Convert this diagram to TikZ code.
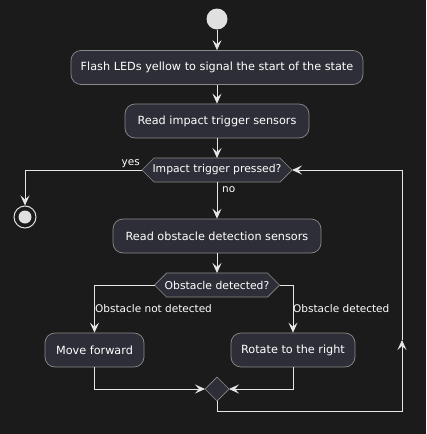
\documentclass[tikz,border=0pt]{standalone}
\usepackage{fontspec}
\setmainfont{DejaVu Sans}
\usetikzlibrary{arrows.meta,calc}
\definecolor{bg}{HTML}{1B1B1B}
\definecolor{boxfill}{HTML}{2E2E38}
\definecolor{boxline}{HTML}{8A8A8A}
\definecolor{ln}{HTML}{E6E6E6}
\definecolor{startc}{HTML}{E0E0E0}
\begin{document}
\begin{tikzpicture}[x=1pt,y=-1pt,
  act/.style={draw=boxline, fill=boxfill, rounded corners=10pt, text=white,
    font=\fontsize{11.25}{14}\selectfont, minimum height=34pt, inner sep=0pt, line width=0.7pt},
  hexa/.style={draw=boxline, fill=boxfill, line width=0.7pt},
  hextext/.style={text=white, font=\fontsize{10.8}{13}\selectfont, inner sep=0pt},
  flow/.style={draw=ln, line width=0.9pt, -{Stealth[length=10pt,width=9pt,inset=4pt]}},
  lbl/.style={text=white, font=\fontsize{10.5}{13}\selectfont, inner sep=1pt}
]
\fill[bg] (0,0) rectangle (426,434);
\useasboundingbox (0,0) rectangle (426,434);

% start and stop
\node[circle, fill=startc, minimum size=21pt, inner sep=0pt] (start) at (217,19) {};
\node[circle, draw=startc, line width=1pt, minimum size=22pt, inner sep=0pt] (stop) at (25,217) {};
\fill[startc] (stop.center) circle (6.5pt);

% activities
\node[act, minimum width=292pt] (flash) at (217,67.5) {Flash LEDs yellow to signal the start of the state};
\node[act, minimum width=184pt] (readimp) at (217,121) {Read impact trigger sensors};
\node[act, minimum width=208pt] (readobs) at (217,236) {Read obstacle detection sensors};
\node[act, minimum width=99pt] (move) at (94.5,350) {Move forward};
\node[act, minimum width=124pt] (rot) at (293,350) {Rotate to the right};

% decision 1
\coordinate (d1w) at (142,170);
\coordinate (d1e) at (292,170);
\coordinate (d1n) at (217,158);
\coordinate (d1s) at (217,182);
\draw[hexa] (d1w) -- (154,158) -- (280,158) -- (d1e) -- (280,182) -- (154,182) -- cycle;
\node[hextext] (d1) at (217,170) {Impact trigger pressed?};

% decision 2
\coordinate (d2w) at (154.5,285);
\coordinate (d2e) at (279.5,285);
\coordinate (d2n) at (217,273);
\draw[hexa] (d2w) -- (166.5,273) -- (267.5,273) -- (d2e) -- (267.5,297) -- (166.5,297) -- cycle;
\node[hextext] (d2) at (217,285) {Obstacle detected?};

% merge
\coordinate (mw) at (205,389);
\coordinate (me) at (229,389);
\coordinate (mn) at (217,377);
\coordinate (ms) at (217,401);
\draw[hexa] (mw) -- (mn) -- (me) -- (ms) -- cycle;

% connectors
\draw[flow] (start) -- (flash);
\draw[flow] (flash) -- (readimp);
\draw[flow] (readimp) -- (d1n);
\draw[flow] (d1w) -| (stop);
\node[lbl, anchor=south east] (yes) at (141,169) {yes};
\draw[flow] (d1s) -- (readobs);
\node[lbl, anchor=west] (no) at (221,190) {no};
\draw[flow] (readobs) -- (d2n);
\draw[flow] (d2w) -| (move);
\node[lbl, anchor=west] (lnd) at (94,309) {Obstacle not detected};
\draw[flow] (d2e) -| (rot);
\node[lbl, anchor=west] (ld) at (292,309) {Obstacle detected};
\draw[flow] (move) |- (mw);
\draw[flow] (rot) |- (me);

\coordinate (lb) at (217,411);
\coordinate (lm) at (402,340);
\draw[flow] (ms) -- (lb) -| (lm);
\draw[flow] (lm) |- (d1e);
\end{tikzpicture}
\end{document}
